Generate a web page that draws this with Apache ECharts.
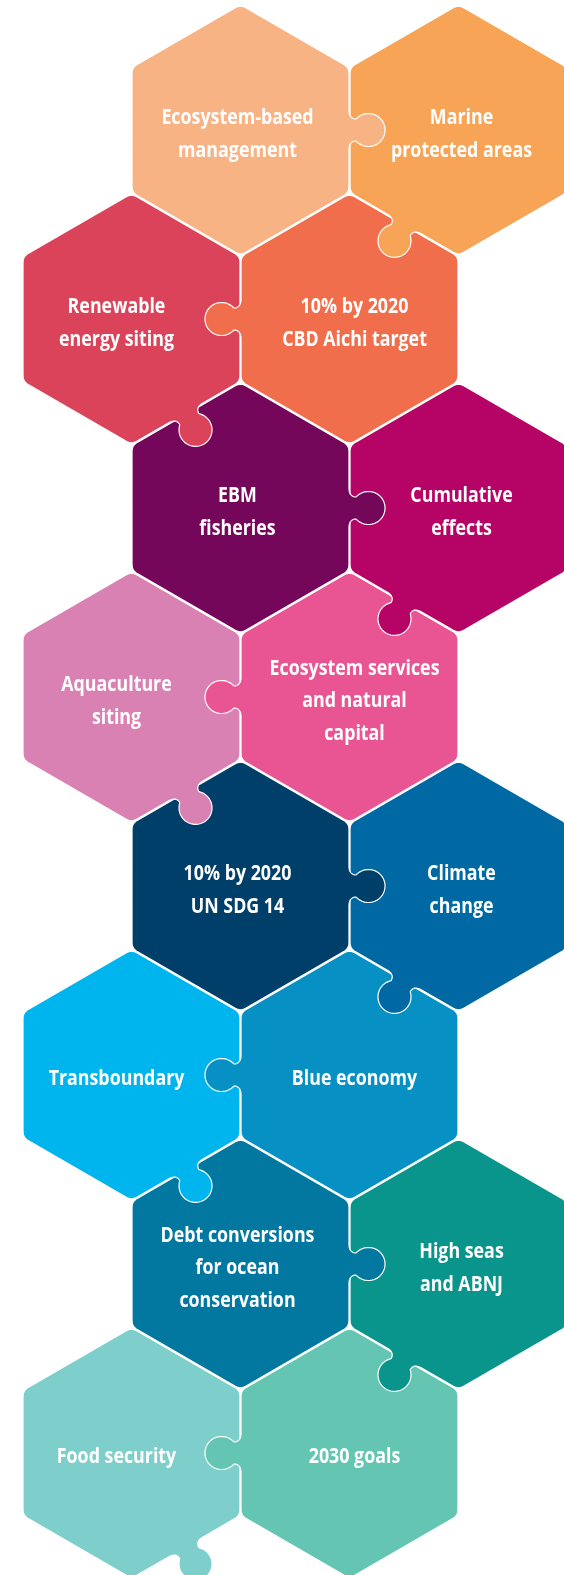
<!DOCTYPE html>
<html>
<head>
<meta charset="utf-8">
<script src="https://cdn.jsdelivr.net/npm/echarts@6/dist/echarts.min.js"></script>
<style>
html,body{margin:0;padding:0;background:#fff;}
#chart{width:564px;height:1575px;}
</style>
</head>
<body>
<div id="chart"></div>
<script>
// ---- data ----
const pieceLabels = [
  'Ecosystem-based\nmanagement', 'Marine\nprotected areas',
  'Renewable\nenergy siting', '10% by 2020\nCBD Aichi target',
  'EBM\nfisheries', 'Cumulative\neffects',
  'Aquaculture\nsiting', 'Ecosystem services\nand natural\ncapital',
  '10% by 2020\nUN SDG 14', 'Climate\nchange',
  'Transboundary', 'Blue economy',
  'Debt conversions\nfor ocean\nconservation', 'High seas\nand ABNJ',
  'Food security', '2030 goals'
];
// hex-grid row index (top to bottom)
const pieceRow = [0,0,1,1,2,2,3,3,4,4,5,5,6,6,7,7];
// hex-grid column, in half-hexagon-width units
const pieceCol = [2,4,1,3,2,4,1,3,2,4,1,3,2,4,1,3];
const pieceColors = [
  '#F7B384', '#F8A457',
  '#DA435A', '#F06E4C',
  '#74075A', '#B50465',
  '#DA81B3', '#E85592',
  '#003F69', '#0069A3',
  '#00B5EE', '#0790C3',
  '#02779F', '#0A958C',
  '#7ECECB', '#63C5B2'
];

// ---- helpers ----
function knobEdgeOf(i) {
  const r = pieceRow[i], left = (i % 2 === 0);
  if (r % 2 === 0) return left ? 1 : 3;
  return left ? 2 : 4;
}
function quad(p0, p1, p2, n, out, skipFirst) {
  for (let j = skipFirst ? 1 : 0; j <= n; j++) {
    const t = j / n, a = (1 - t) * (1 - t), b = 2 * (1 - t) * t, c = t * t;
    out.push([a * p0[0] + b * p1[0] + c * p2[0], a * p0[1] + b * p1[1] + c * p2[1]]);
  }
}
function piecePoints(cx, cy, R, edge, s) {
  const V = [];
  for (let k = 0; k < 6; k++) {
    const a = (-90 + 60 * k) * Math.PI / 180;
    V.push([cx + R * Math.cos(a), cy + R * Math.sin(a)]);
  }
  const pts = [];
  const rc = 6;
  for (let k = 0; k < 6; k++) {
    const v = V[k], p = V[(k + 5) % 6], nx = V[(k + 1) % 6];
    const dp = [p[0] - v[0], p[1] - v[1]], dn = [nx[0] - v[0], nx[1] - v[1]];
    const lp = Math.hypot(dp[0], dp[1]), ln = Math.hypot(dn[0], dn[1]);
    const A = [v[0] + dp[0] / lp * rc, v[1] + dp[1] / lp * rc];
    const B = [v[0] + dn[0] / ln * rc, v[1] + dn[1] / ln * rc];
    quad(A, v, B, 6, pts, false);
    if (k === edge) {
      const M = [(v[0] + nx[0]) / 2, (v[1] + nx[1]) / 2];
      const t = [dn[0] / ln, dn[1] / ln];
      const n = [t[1], -t[0]];
      const L = (u, w) => [M[0] + n[0] * u * s + t[0] * w * s, M[1] + n[1] * u * s + t[1] * w * s];
      const kp = [];
      quad([0, -19], [0.5, -11], [7, -11], 8, kp, false);
      const cu = 19.5, rr = 16.5;
      const a0 = Math.atan2(-11, 7 - cu), a1 = -a0;
      const steps = 32;
      for (let j = 1; j < steps; j++) {
        const ph = a0 + (a1 - a0) * j / steps;
        kp.push([cu + rr * Math.cos(ph), rr * Math.sin(ph)]);
      }
      quad([7, 11], [0.5, 11], [0, 19], 8, kp, false);
      kp.forEach(q => pts.push(L(q[0], q[1])));
    }
  }
  return pts;
}

// draw order: bottom row first; within a row, the piece receiving the tab first
const order = [];
for (let r = 7; r >= 0; r--) {
  const li = 2 * r, ri = 2 * r + 1;
  if (r % 2 === 0) { order.push(ri, li); } else { order.push(li, ri); }
}
const pieceData = order.map(i => [pieceCol[i], pieceRow[i], i]);
const labelData = pieceLabels.map((_, i) => [pieceCol[i], pieceRow[i], i]);

const chart = echarts.init(document.getElementById('chart'), null, {renderer: 'canvas'});
chart.setOption({
  animation: false,
  backgroundColor: '#ffffff',
  grid: {left: 22.5, top: 130, width: 436, height: 1323, containLabel: false},
  xAxis: {type: 'value', min: 0, max: 4, show: false},
  yAxis: {type: 'value', min: 0, max: 7, inverse: true, show: false},
  series: [
    {
      type: 'custom',
      clip: false,
      data: pieceData,
      encode: {x: 0, y: 1},
      renderItem: function (params, api) {
        const i = api.value(2);
        const c = api.coord([api.value(0), api.value(1)]);
        const hw = api.size([1, 0])[0];
        const R = hw * 2 / Math.sqrt(3) - 0.6;
        const s = R / 125;
        return {
          type: 'polygon',
          shape: {points: piecePoints(c[0], c[1], R, knobEdgeOf(i), s)},
          style: {fill: pieceColors[i], stroke: '#ffffff', lineWidth: 1.2}
        };
      }
    },
    {
      type: 'custom',
      clip: false,
      data: labelData,
      encode: {x: 0, y: 1},
      z: 5,
      renderItem: function (params, api) {
        const i = api.value(2);
        const c = api.coord([api.value(0), api.value(1)]);
        const r = pieceRow[i], left = (i % 2 === 0);
        let dx;
        if (r % 2 === 0) dx = left ? -3 : 3; else dx = left ? -15 : 5;
        return {
          type: 'text',
          x: c[0] + dx,
          y: c[1] + 4,
          scaleX: 0.81,
          style: {
            text: pieceLabels[i],
            fill: '#ffffff',
            fontFamily: '"Open Sans", Roboto, sans-serif',
            fontWeight: 'bold',
            fontSize: 22,
            lineHeight: 32.5,
            align: 'center',
            verticalAlign: 'middle'
          }
        };
      }
    }
  ]
});
</script>
</body>
</html>
